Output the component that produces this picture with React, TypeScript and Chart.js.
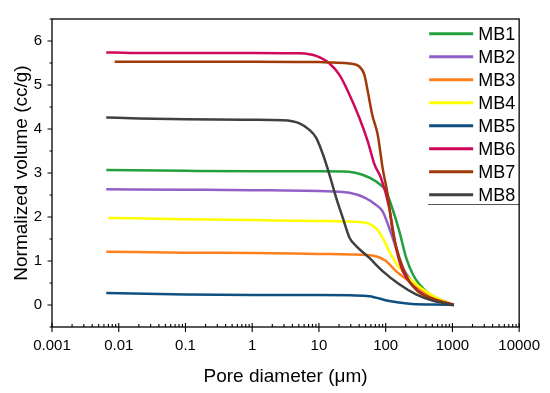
import React, { useEffect, useRef } from "react";
import { Chart, registerables } from "chart.js";

Chart.register(...registerables);

const SERIES_LABELS = ["MB1", "MB2", "MB3", "MB4", "MB5", "MB6", "MB7", "MB8"];
const SERIES_COLORS = ["#23a03e", "#9060c8", "#ff7f1e", "#ffff00", "#10507e", "#d0085a", "#a0380a", "#404040"];

const MB1_D = [0.0065, 0.1, 1, 10, 28, 45, 71, 101, 125, 160, 203, 255, 320, 500, 1050];
const MB1_V = [3.07, 3.05, 3.04, 3.04, 3.03, 2.96, 2.81, 2.59, 2.21, 1.68, 1.07, 0.7, 0.47, 0.2, 0.0];

const MB2_D = [0.0065, 0.1, 1, 10, 28.7, 50, 71, 90, 113, 143, 180, 250, 350, 600, 1050];
const MB2_V = [2.63, 2.62, 2.61, 2.59, 2.55, 2.43, 2.28, 2.13, 1.75, 1.3, 0.85, 0.54, 0.35, 0.15, 0.0];

const MB3_D = [0.0065, 0.1, 1, 10, 30, 71, 101, 143, 225, 350, 600, 1050];
const MB3_V = [1.21, 1.19, 1.18, 1.16, 1.15, 1.11, 1.0, 0.77, 0.54, 0.32, 0.14, 0.0];

const MB4_D = [0.007, 0.1, 1, 10, 45, 71, 90, 113, 160, 285, 570, 1050];
const MB4_V = [1.98, 1.95, 1.93, 1.91, 1.88, 1.75, 1.53, 1.22, 0.85, 0.47, 0.17, 0.0];

const MB5_D = [0.0065, 0.1, 1, 10, 30, 57, 113, 225, 500, 1050];
const MB5_V = [0.27, 0.24, 0.23, 0.23, 0.22, 0.2, 0.09, 0.03, 0.01, 0.0];

const MB6_D = [0.0065, 0.015, 1, 5, 7.2, 9.1, 14.4, 20.3, 28.7, 40.4, 53.9, 67.8, 85, 113, 143, 180, 250, 400, 1050];
const MB6_V = [5.74, 5.73, 5.73, 5.72, 5.7, 5.66, 5.49, 5.23, 4.78, 4.25, 3.72, 3.2, 2.89, 2.21, 1.3, 0.77, 0.45, 0.2, 0.0];

const MB7_D = [0.0087, 1, 10, 16, 28.7, 40.4, 48, 54, 63, 76, 90, 107, 125, 160, 225, 300, 500, 1050];
const MB7_V = [5.53, 5.53, 5.52, 5.51, 5.49, 5.42, 5.23, 4.85, 4.32, 3.87, 3.11, 2.51, 1.75, 1.07, 0.54, 0.32, 0.15, 0.0];

const MB8_D = [0.0065, 0.02, 0.1, 1, 2.9, 5.1, 7.2, 9.1, 11.5, 14.4, 18.2, 22.8, 28.7, 36.2, 57, 90, 160, 285, 500, 1050];
const MB8_V = [4.26, 4.24, 4.22, 4.21, 4.2, 4.13, 3.98, 3.8, 3.42, 2.96, 2.43, 1.98, 1.53, 1.34, 1.07, 0.77, 0.47, 0.24, 0.1, 0.0];

const SERIES_D = [MB1_D, MB2_D, MB3_D, MB4_D, MB5_D, MB6_D, MB7_D, MB8_D];
const SERIES_V = [MB1_V, MB2_V, MB3_V, MB4_V, MB5_V, MB6_V, MB7_V, MB8_V];

const X_TICKS = [0.001, 0.01, 0.1, 1, 10, 100, 1000, 10000];
const X_TICK_LABELS = ["0.001", "0.01", "0.1", "1", "10", "100", "1000", "10000"];
const Y_TICKS = [0, 1, 2, 3, 4, 5, 6];
const Y_TICK_LABELS = ["0", "1", "2", "3", "4", "5", "6"];
const Y_MIN = -0.5;
const Y_MAX = 6.5;

const X_TITLE = "Pore diameter (\u03bcm)";
const Y_TITLE = "Normalized volume (cc/g)";

const FONT = "'Liberation Sans', Arial, sans-serif";

const framePlugin = {
  id: "frameTicks",
  afterDraw(chart: any) {
    const { ctx, chartArea } = chart;
    const { left, right, top, bottom } = chartArea;
    const xs = chart.scales.x;
    const ys = chart.scales.y;
    ctx.save();
    ctx.strokeStyle = "#000";
    ctx.lineWidth = 1.3;
    ctx.strokeRect(left, top, right - left, bottom - top);
    ctx.lineWidth = 1.1;
    ctx.beginPath();
    const eMin = Math.round(Math.log10(xs.min));
    const eMax = Math.round(Math.log10(xs.max));
    for (let e = eMin; e <= eMax; e++) {
      for (let k = 1; k <= 9; k++) {
        const v = k * Math.pow(10, e);
        if (v > xs.max * 1.0001) break;
        const px = xs.getPixelForValue(v);
        if (k === 1) {
          ctx.moveTo(px, bottom - 4);
          ctx.lineTo(px, bottom + 5);
        } else {
          ctx.moveTo(px, bottom - 3);
          ctx.lineTo(px, bottom);
        }
      }
    }
    for (let v = Y_MIN; v <= Y_MAX + 1e-9; v += 0.5) {
      const py = ys.getPixelForValue(v);
      const major = Math.abs(v - Math.round(v)) < 1e-9;
      ctx.moveTo(left - (major ? 4.5 : 2.5), py);
      ctx.lineTo(left, py);
    }
    ctx.stroke();
    ctx.restore();
  },
};

const legendPlugin = {
  id: "insideLegend",
  afterDatasetsDraw(chart: any) {
    const { ctx, chartArea } = chart;
    const { right, top } = chartArea;
    ctx.save();
    ctx.font = "18px " + FONT;
    ctx.textBaseline = "middle";
    ctx.textAlign = "left";
    chart.data.datasets.forEach((ds: any, i: number) => {
      const y = top + 14.7 + i * 23;
      ctx.strokeStyle = ds.borderColor;
      ctx.lineWidth = 3;
      ctx.beginPath();
      ctx.moveTo(right - 90, y);
      ctx.lineTo(right - 46, y);
      ctx.stroke();
      ctx.fillStyle = "#000";
      ctx.fillText(ds.label, right - 41, y + 1);
    });
    ctx.strokeStyle = "#555";
    ctx.lineWidth = 1;
    ctx.beginPath();
    ctx.moveTo(right - 91, top + 185.5);
    ctx.lineTo(right, top + 185.5);
    ctx.stroke();
    ctx.restore();
  },
};

export default function App() {
  const ref = useRef<HTMLCanvasElement | null>(null);

  useEffect(() => {
    if (!ref.current) return;
    Chart.defaults.font.family = FONT;
    Chart.defaults.color = "#000";
    const datasets = SERIES_LABELS.map((label, i) => ({
      label,
      data: SERIES_D[i].map((d, j) => ({ x: d, y: SERIES_V[i][j] })),
      borderColor: SERIES_COLORS[i],
      backgroundColor: SERIES_COLORS[i],
      borderWidth: 2.5,
      pointRadius: 0,
      fill: false,
      cubicInterpolationMode: "monotone" as const,
      order: SERIES_LABELS.length - i,
    }));
    const chart = new Chart(ref.current, {
      type: "line",
      data: { datasets },
      options: {
        animation: false,
        responsive: false,
        devicePixelRatio: 1,
        layout: { padding: { top: 17, right: 30, left: 0, bottom: 0 } },
        plugins: { legend: { display: false }, tooltip: { enabled: false } },
        scales: {
          x: {
            type: "logarithmic",
            min: 0.001,
            max: 10000,
            afterBuildTicks: (s: any) => {
              s.ticks = X_TICKS.map((v) => ({ value: v, major: true }));
            },
            afterFit: (s: any) => {
              s.height = 66;
            },
            grid: { display: false, drawTicks: false },
            border: { display: false },
            ticks: {
              autoSkip: false,
              maxRotation: 0,
              padding: 10,
              font: { size: 15 },
              color: "#000",
              callback: (_v: any, i: number) => X_TICK_LABELS[i],
            },
            title: {
              display: true,
              text: X_TITLE,
              font: { size: 19 },
              color: "#000",
              padding: { top: 0, bottom: 5 },
            },
          },
          y: {
            type: "linear",
            min: Y_MIN,
            max: Y_MAX,
            afterBuildTicks: (s: any) => {
              s.ticks = Y_TICKS.map((v) => ({ value: v }));
            },
            afterFit: (s: any) => {
              s.width = 52;
            },
            grid: { display: false, drawTicks: false },
            border: { display: false },
            ticks: {
              padding: 10,
              font: { size: 15 },
              color: "#000",
              callback: (_v: any, i: number) => Y_TICK_LABELS[i],
            },
            title: {
              display: true,
              text: Y_TITLE,
              font: { size: 19 },
              color: "#000",
              padding: { top: 10.6, bottom: 0 },
            },
          },
        },
      },
      plugins: [legendPlugin, framePlugin],
    });
    return () => chart.destroy();
  }, []);

  return (
    <div style={{ position: "fixed", left: 0, top: 0, width: 550, height: 393, background: "#fff" }}>
      <canvas ref={ref} width={550} height={393} style={{ width: 550, height: 393, display: "block" }} />
    </div>
  );
}
